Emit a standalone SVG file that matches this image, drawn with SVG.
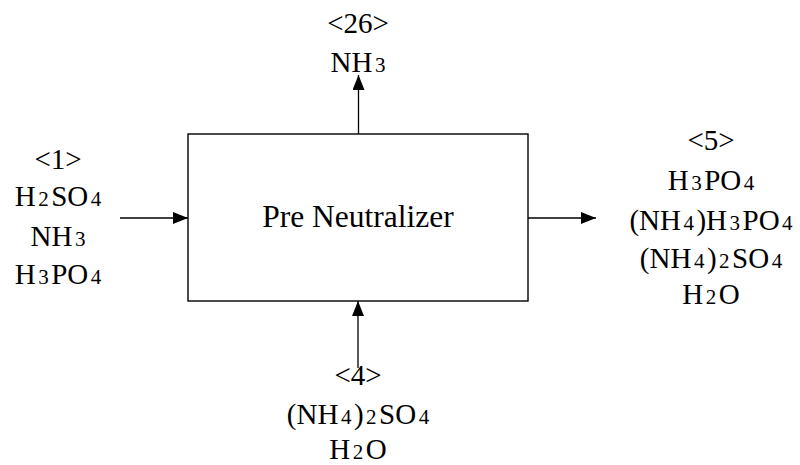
<svg xmlns="http://www.w3.org/2000/svg" width="800" height="465" viewBox="0 0 800 465">
<style>
text, tspan{font-family:"Liberation Serif", serif !important}
text{fill:#000;text-anchor:middle}
.lbl{font-size:29px}
.s{font-size:21px}
.c{font-size:31.5px}
.ln{stroke:#000;stroke-width:1.3;fill:none}
</style>
<defs>
<marker id="ah" viewBox="0 0 15 12" refX="15" refY="6" markerWidth="15" markerHeight="12" markerUnits="userSpaceOnUse" orient="auto">
<path d="M0,0 L15,6 L0,12 Z" fill="#000"/>
</marker>
</defs>
<rect width="800" height="465" fill="#fff"/>
<g id="prenutralizer">
<rect x="188" y="134" width="340" height="167" fill="#fff" stroke="#000" stroke-width="1.4"/>
<text class="c" x="358" y="227" style="font-family:'Liberation Serif', serif">Pre Neutralizer</text>
</g>
<g id="connectors">
<line class="ln" x1="120" y1="218" x2="188" y2="218" marker-end="url(#ah)"/>
<line class="ln" x1="358.5" y1="134" x2="358.5" y2="75" marker-end="url(#ah)"/>
<line class="ln" x1="528" y1="218" x2="596" y2="218" marker-end="url(#ah)"/>
<line class="ln" x1="358" y1="368" x2="358" y2="301" marker-end="url(#ah)"/>
</g>
<g id="stream1">
<text class="lbl" x="58" y="169" style="font-family:'Liberation Serif', serif">&lt;1&gt;</text>
<text class="lbl" x="58" y="206" style="font-family:'Liberation Serif', serif">H<tspan class="s" dx="2.5">2</tspan><tspan dx="2.5">SO</tspan><tspan class="s" dx="2.5">4</tspan></text>
<text class="lbl" x="58" y="246" style="font-family:'Liberation Serif', serif">NH<tspan class="s" dx="2.5">3</tspan></text>
<text class="lbl" x="58" y="284" style="font-family:'Liberation Serif', serif">H<tspan class="s" dx="2.5">3</tspan><tspan dx="2.5">PO</tspan><tspan class="s" dx="2.5">4</tspan></text>
</g>
<g id="stream26">
<text class="lbl" x="358" y="33" style="font-family:'Liberation Serif', serif">&lt;26&gt;</text>
<text class="lbl" x="358" y="72" style="font-family:'Liberation Serif', serif">NH<tspan class="s" dx="2.5">3</tspan></text>
</g>
<g id="stream5">
<text class="lbl" x="711" y="150" style="font-family:'Liberation Serif', serif">&lt;5&gt;</text>
<text class="lbl" x="711" y="190" style="font-family:'Liberation Serif', serif">H<tspan class="s" dx="2.5">3</tspan><tspan dx="2.5">PO</tspan><tspan class="s" dx="2.5">4</tspan></text>
<text class="lbl" x="711" y="230" style="font-family:'Liberation Serif', serif">(NH<tspan class="s" dx="2.5">4</tspan><tspan dx="2.5">)H</tspan><tspan class="s" dx="2.5">3</tspan><tspan dx="2.5">PO</tspan><tspan class="s" dx="2.5">4</tspan></text>
<text class="lbl" x="711" y="268" style="font-family:'Liberation Serif', serif">(NH<tspan class="s" dx="2.5">4</tspan><tspan dx="2.5">)</tspan><tspan class="s" dx="2.5">2</tspan><tspan dx="2.5">SO</tspan><tspan class="s" dx="2.5">4</tspan></text>
<text class="lbl" x="711" y="304" style="font-family:'Liberation Serif', serif">H<tspan class="s" dx="2.5">2</tspan><tspan dx="2.5">O</tspan></text>
</g>
<g id="stream4">
<text class="lbl" x="358" y="385" style="font-family:'Liberation Serif', serif">&lt;4&gt;</text>
<text class="lbl" x="358" y="424" style="font-family:'Liberation Serif', serif">(NH<tspan class="s" dx="2.5">4</tspan><tspan dx="2.5">)</tspan><tspan class="s" dx="2.5">2</tspan><tspan dx="2.5">SO</tspan><tspan class="s" dx="2.5">4</tspan></text>
<text class="lbl" x="358" y="459" style="font-family:'Liberation Serif', serif">H<tspan class="s" dx="2.5">2</tspan><tspan dx="2.5">O</tspan></text>
</g>
</svg>
